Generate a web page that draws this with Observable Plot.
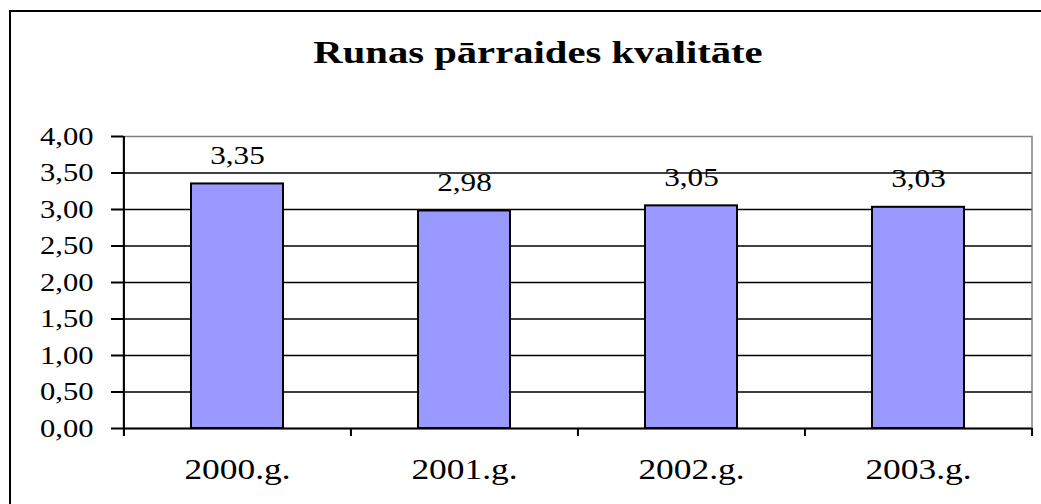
<!DOCTYPE html>
<html>
<head>
<meta charset="utf-8">
<script src="https://cdn.jsdelivr.net/npm/d3@7"></script>
<script src="https://cdn.jsdelivr.net/npm/@observablehq/plot@0.6"></script>
<style>
html, body { margin: 0; padding: 0; background: #fff; }
#wrap { position: relative; width: 1041px; height: 504px; overflow: hidden; font-family: "Liberation Serif", "Times New Roman", serif; }
#border { position: absolute; left: 9px; top: 10px; width: 1100px; height: 600px; border-left: 2.5px solid #000; border-top: 2.5px solid #000; }
#title { position: absolute; left: 538px; top: 36px; font-size: 32px; line-height: 32px; font-weight: bold; white-space: nowrap; color: #000; transform: translateX(-50%) scaleX(1.27); }
#chart { position: absolute; left: 0; top: 0; }
</style>
</head>
<body>
<div id="wrap">
  <div id="border"></div>
  <div id="title">Runas pārraides kvalitāte</div>
  <div id="chart"></div>
</div>
<script>
const years = ["2000.g.", "2001.g.", "2002.g.", "2003.g."];
const values = [3.35, 2.98, 3.05, 3.03];
const yTicks = [0, 0.5, 1, 1.5, 2, 2.5, 3, 3.5, 4];
const gridTicks = yTicks.filter(t => t > 0 && t < 4);

const data = years.map((year, i) => ({year, value: values[i]}));
const fmt = v => d3.format(".2f")(v).replace(".", ",");

const W = 1041, H = 504, mL = 123, mR = 9.5, mT = 136, mB = 76;
const step = (W - mL - mR) / years.length;
const font = '"Liberation Serif", "Times New Roman", serif';

const plot = Plot.plot({
  width: W, height: H,
  marginLeft: mL, marginRight: mR, marginTop: mT, marginBottom: mB,
  style: {fontFamily: font, background: "transparent", overflow: "visible", color: "#000"},
  x: {type: "band", domain: years, paddingInner: 0.595, paddingOuter: 0.2975, axis: null, label: null},
  y: {domain: [0, 4], axis: null, label: null},
  marks: [
    Plot.frame({stroke: "#808080", strokeWidth: 1.5}),
    Plot.ruleY(gridTicks, {stroke: "#000", strokeWidth: 1.6}),
    Plot.barY(data, {x: "year", y: "value", fill: "#9999FF", stroke: "#000", strokeWidth: 2}),
    Plot.ruleY([0], {stroke: "#000", strokeWidth: 2}),
    Plot.ruleX([years[0]], {x: d => d, dx: -step / 2, stroke: "#000", strokeWidth: 2, insetBottom: -8}),
    Plot.ruleX(years, {x: d => d, y1: 0, y2: 0, dx: -step / 2, stroke: "#000", strokeWidth: 2, insetBottom: -8}),
    Plot.ruleX([years[years.length - 1]], {x: d => d, y1: 0, y2: 0, dx: step / 2, stroke: "#000", strokeWidth: 2, insetBottom: -8}),
    Plot.axisY({ticks: yTicks, tickSize: 12, tickPadding: 18, tickFormat: fmt, fontSize: 25.5, strokeWidth: 2, label: null, fill: "#000"}),
    Plot.axisX({tickSize: 0, tickPadding: 30, fontSize: 29.5, label: null, fill: "#000"}),
    Plot.text(data, {x: "year", y: "value", text: d => fmt(d.value), dy: -20, lineAnchor: "bottom", fontSize: 26, fill: "#000"})
  ]
});

plot.querySelectorAll("text").forEach(t => {
  const tr = t.getAttribute("transform");
  if (tr) {
    t.setAttribute("transform", tr + " scale(1.2,1)");
  } else {
    const x = +t.getAttribute("x") || 0, y = +t.getAttribute("y") || 0;
    t.removeAttribute("x"); t.removeAttribute("y");
    t.setAttribute("transform", `translate(${x},${y}) scale(1.2,1)`);
  }
});

document.getElementById("chart").appendChild(plot);
</script>
</body>
</html>
